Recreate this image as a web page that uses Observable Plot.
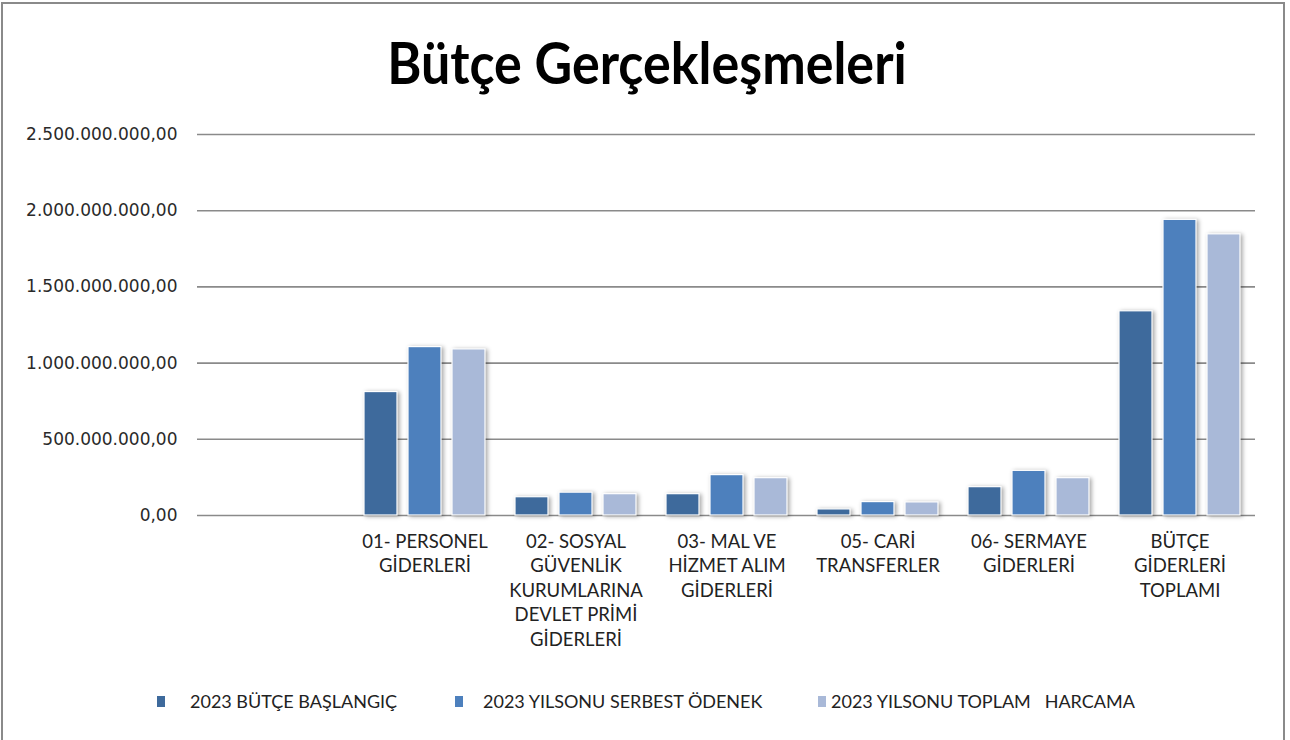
<!DOCTYPE html>
<html>
<head>
<meta charset="utf-8">
<script src="https://cdn.jsdelivr.net/npm/d3@7"></script>
<script src="https://cdn.jsdelivr.net/npm/@observablehq/plot@0.6"></script>
<style>
  html, body { margin: 0; padding: 0; background: #fff; }
  body { width: 1290px; height: 740px; position: relative; overflow: hidden; font-family: Lato, "Open Sans", sans-serif; }
  #frame { position: absolute; left: 1px; top: 2px; width: 1284px; height: 740px; border: 2px solid #8a8a8a; border-bottom-color: #ddd; box-sizing: border-box; }
  #title { position: absolute; left: 0; width: 1294px; top: 31px; text-align: center; font-family: Lato, sans-serif; font-weight: 700; font-size: 52px; color: #000; transform: scaleY(1.1); }
  #grid, #chart { position: absolute; left: 0; top: 110px; }
  .leg { position: absolute; top: 689px; font-family: Lato, sans-serif; font-size: 18px; color: #222; white-space: pre; line-height: 24px; }
  .sw { position: absolute; top: 696px; width: 8px; height: 11px; }
</style>
</head>
<body>
<div id="frame"></div>
<div id="title">Bütçe Gerçekleşmeleri</div>
<div id="grid"></div>
<div id="chart"></div>
<div id="legend"></div>
<script>
const categories = [
  "01- PERSONEL GİDERLERİ",
  "02- SOSYAL GÜVENLİK KURUMLARINA DEVLET PRİMİ GİDERLERİ",
  "03- MAL VE HİZMET ALIM GİDERLERİ",
  "05- CARİ TRANSFERLER",
  "06- SERMAYE GİDERLERİ",
  "BÜTÇE GİDERLERİ TOPLAMI"
];
const tickLabels = [
  "01- PERSONEL\nGİDERLERİ",
  "02- SOSYAL\nGÜVENLİK\nKURUMLARINA\nDEVLET PRİMİ\nGİDERLERİ",
  "03- MAL VE\nHİZMET ALIM\nGİDERLERİ",
  "05- CARİ\nTRANSFERLER",
  "06- SERMAYE\nGİDERLERİ",
  "BÜTÇE\nGİDERLERİ\nTOPLAMI"
];
const series = ["2023 BÜTÇE BAŞLANGIÇ", "2023 YILSONU SERBEST ÖDENEK", "2023 YILSONU TOPLAM   HARCAMA"];
const colors = ["#3e6a9c", "#4d80bd", "#a9b9d8"];
const baslangic = [810e6, 120e6, 140e6, 40e6, 186e6, 1340e6];
const serbestOdenek = [1105e6, 150e6, 265e6, 88e6, 293e6, 1940e6];
const toplamHarcama = [1090e6, 140e6, 245e6, 86e6, 245e6, 1845e6];
const yTicks = [0, 5e8, 1e9, 1.5e9, 2e9, 2.5e9];

const valuesBySeries = [baslangic, serbestOdenek, toplamHarcama];
const data = [];
categories.forEach((c, i) => series.forEach((s, j) => data.push({category: c, series: s, value: valuesBySeries[j][i]})));

const trLocale = d3.formatLocale({decimal: ",", thousands: ".", grouping: [3], currency: ["", ""]});
const fmt = trLocale.format(",.2f");

const dims = {width: 1290, height: 560, marginLeft: 197, marginRight: 35, marginTop: 24, marginBottom: 155};

// background gridlines spanning the whole frame
const grid = Plot.plot({
  ...dims,
  style: {background: "transparent"},
  x: {domain: [0, 1], axis: null},
  y: {domain: [0, 2.5e9], axis: null},
  marks: [Plot.ruleY(yTicks, {stroke: "#8a8a8a", strokeWidth: 1.6})]
});
document.getElementById("grid").appendChild(grid);

const plot = Plot.plot({
  ...dims,
  style: {background: "transparent", fontFamily: "Lato, sans-serif", overflow: "visible"},
  fx: {domain: ["", ...categories], paddingInner: 0.2, paddingOuter: 0.1, label: null},
  x: {domain: series, paddingInner: 0.26, paddingOuter: 0, axis: null},
  y: {domain: [0, 2.5e9], label: null},
  color: {domain: series, range: colors},
  marks: [
    Plot.barY(data, {fx: "category", x: "series", y: "value", fill: "series", stroke: "white", strokeWidth: 1.2}),
    Plot.axisY({ticks: yTicks, tickFormat: fmt, tickSize: 0, tickPadding: 187, fontSize: 17, fill: "#2a2a2a", label: null}),
    Plot.axisFx({anchor: "bottom", tickSize: 0, tickPadding: 15, fontSize: 18.5, lineHeight: 1.32, fill: "#222", label: null,
      tickFormat: d => { const i = categories.indexOf(d); return i < 0 ? "" : tickLabels[i]; }})
  ]
});
document.getElementById("chart").appendChild(plot);
d3.select(plot).selectAll('g[aria-label="bar"]').style("filter", "drop-shadow(2px 1px 2px rgba(0,0,0,0.35))");
const yLabelTexts = yTicks.map(fmt);
d3.select(plot).selectAll("text")
  .filter(function() { return yLabelTexts.includes(this.textContent); })
  .style("font-family", "'DejaVu Sans', sans-serif")
  .style("font-size", "17px");

const legendPos = [[157, 190], [455, 483], [818, 831]];
const legend = document.getElementById("legend");
series.forEach((s, i) => {
  const sw = document.createElement("div");
  sw.className = "sw";
  sw.style.left = legendPos[i][0] + "px";
  sw.style.background = colors[i];
  legend.appendChild(sw);
  const t = document.createElement("div");
  t.className = "leg";
  t.style.left = legendPos[i][1] + "px";
  t.textContent = s;
  legend.appendChild(t);
});
</script>
</body>
</html>
